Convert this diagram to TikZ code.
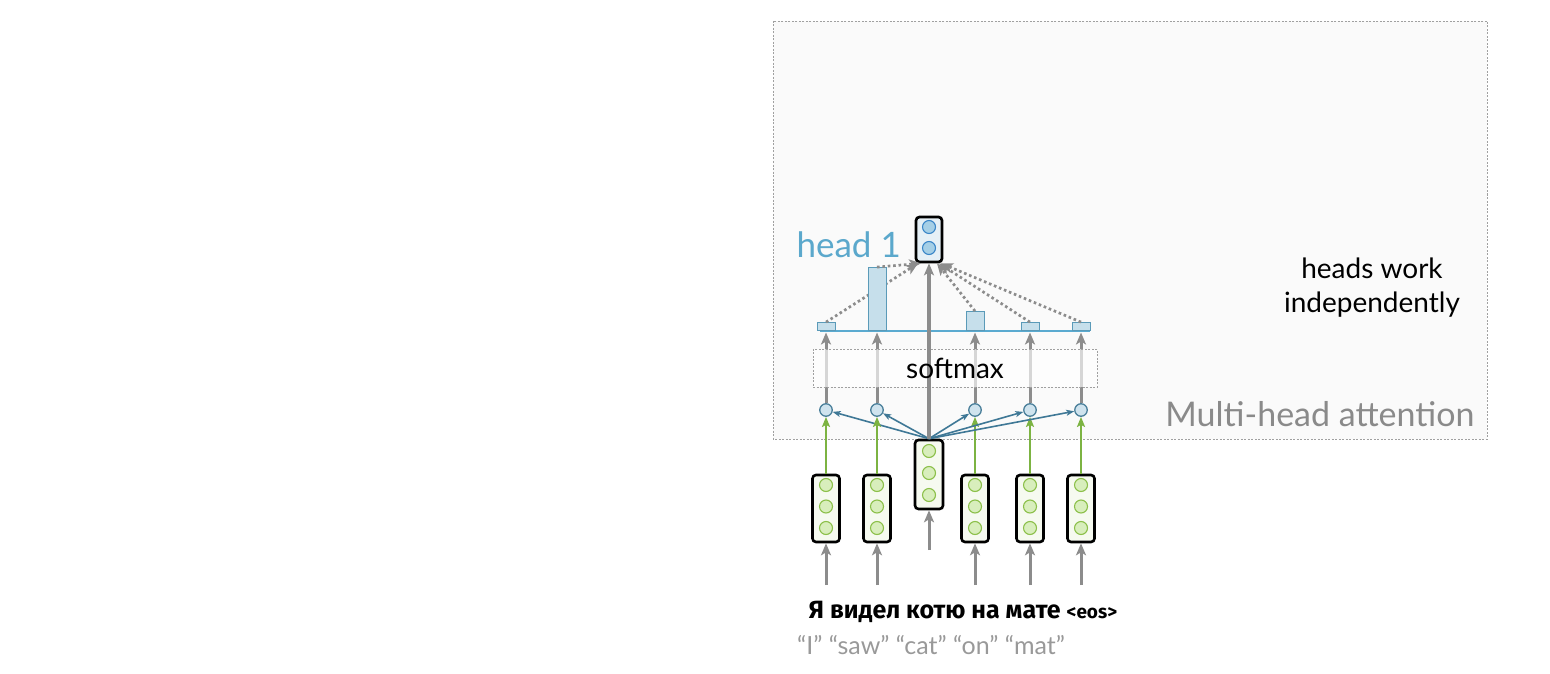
\documentclass[tikz,border=0pt]{standalone}
\usepackage{fontspec}
\setmainfont{Lato}
\newfontfamily\rusfont{Fira Sans}
\usetikzlibrary{arrows.meta, calc, positioning}
\definecolor{framefill}{HTML}{FAFAFA}
\definecolor{framegray}{HTML}{A0A0A0}
\definecolor{arrowgray}{HTML}{8C8C8C}
\definecolor{vecfill}{HTML}{F6FAF0}
\definecolor{dotfill}{HTML}{D8EEBC}
\definecolor{dotdraw}{HTML}{8CC04A}
\definecolor{greenarrow}{HTML}{7CB342}
\definecolor{scorefill}{HTML}{CFE3EE}
\definecolor{scoredraw}{HTML}{4A7F9A}
\definecolor{blueedge}{HTML}{3F7896}
\definecolor{barfill}{HTML}{C6DFEB}
\definecolor{bardraw}{HTML}{5A9AB8}
\definecolor{baseblue}{HTML}{5AAAD0}
\definecolor{headfill}{HTML}{E6F0F6}
\definecolor{headdot}{HTML}{A5CFE6}
\definecolor{headdotdraw}{HTML}{3A86C8}
\definecolor{headblue}{HTML}{5BA8CC}
\definecolor{titlegray}{HTML}{8A8A8A}
\definecolor{wordgray}{HTML}{999999}

\begin{document}
\begin{tikzpicture}[x=1pt, y=-1pt,
    vecbox/.style={draw=black, line width=2.6pt, rounded corners=3.5pt, fill=vecfill,
      minimum width=27pt, minimum height=67pt, inner sep=0pt},
    vecdot/.style={circle, draw=dotdraw, line width=1.1pt, fill=dotfill, minimum size=13pt, inner sep=0pt},
    score/.style={circle, draw=scoredraw, line width=1.3pt, fill=scorefill, minimum size=12.5pt, inner sep=0pt},
    bar/.style={draw=bardraw, line width=0.9pt, fill=barfill, minimum width=18pt, inner sep=0pt},
    headdotn/.style={circle, draw=headdotdraw, line width=1.1pt, fill=headdot, minimum size=13pt, inner sep=0pt},
    grayedge/.style={->, >={Stealth[length=12pt, width=10pt, inset=3pt]}, color=arrowgray, line width=3pt},
    greenedge/.style={->, >={Stealth[length=10pt, width=8pt, inset=2pt]}, color=greenarrow, line width=2.6pt},
    bluearrow/.style={->, >={Stealth[length=8pt, width=6pt, inset=2pt]}, color=blueedge, line width=1.6pt},
    dotedge/.style={->, >={Stealth[length=12pt, width=10pt, inset=3pt]}, color=arrowgray, line width=2.7pt,
      dash pattern=on 2.6pt off 2.8pt},
    ]
    \useasboundingbox (0,0) rectangle (1550,674);

    % draw the frame of the attention block
    \draw[fill=framefill, draw=framegray, line width=0.9pt, dash pattern=on 2pt off 1.5pt]
        (773,21) rectangle (1487,439);
    \node[anchor=east, text=titlegray, font=\fontsize{34}{40}\selectfont] (mha) at (1478,414) {Multi-head attention};
    \node[align=center, font=\fontsize{28}{34}\selectfont] (hw) at (1372,288) {heads work\\independently};

    % draw the query vector
    \node[vecbox, minimum width=28pt, minimum height=69pt] (q) at (929,474.5) {};
    \node[vecdot] (q-1) at (929,451) {};
    \node[vecdot] (q-2) at (929,473) {};
    \node[vecdot] (q-3) at (929,495) {};
    \coordinate (qin) at (929,550);
    \draw[grayedge] (qin) -- (q.south);

    % draw the head output
    \node[draw=black, line width=2.7pt, rounded corners=3.5pt, fill=headfill,
          minimum width=26pt, minimum height=45pt, inner sep=0pt] (h) at (929,239.5) {};
    \node[headdotn] (h-1) at (929,227) {};
    \node[headdotn] (h-2) at (929,248) {};
    \node[text=headblue, anchor=west, font=\fontsize{35}{40}\selectfont] (hl) at (793,245) {head 1};

    % draw the key vectors, scores and bars
    \foreach \i/\x/\h/\d in {1/826/8/-11, 2/877/63/-8, 3/975/19/8, 4/1030/8/10, 5/1081/8/12} {
        \node[vecbox] (k\i) at (\x,508.5) {};
        \node[vecdot] (k\i-1) at (\x,485) {};
        \node[vecdot] (k\i-2) at (\x,506.5) {};
        \node[vecdot] (k\i-3) at (\x,528) {};
        \coordinate (in\i) at (\x,585);
        \draw[grayedge] (in\i) -- (k\i.south);

        \node[score] (s\i) at (\x,410) {};
        \draw[greenedge] (k\i.north) -- (s\i.south);
        \draw[bluearrow] (q.north) -- (s\i);

        \coordinate (t\i) at (\x,332.5);
        \draw[grayedge] (s\i.north) -- (t\i);
    }

    % softmax box over the lines
    \node[draw=framegray, line width=0.9pt, dash pattern=on 2pt off 1.5pt, fill=white, fill opacity=0.65,
          minimum width=284pt, minimum height=38pt, inner sep=0pt] (sm) at (955,368) {};

    % bars of the attention weights
    \draw[color=baseblue, line width=1.4pt] (820,331) -- (1090,331);
    \foreach \i/\x/\h/\d in {1/826/8/-11, 2/877/63/-8, 3/975/19/8, 4/1030/8/10, 5/1081/8/12} {
        \node[bar, minimum height=\h pt, anchor=south] (b\i) at (\x,331) {};
        \draw[dotedge] (b\i.north) -- ($(h.south)+(\d,0)$);
    }

    % the query goes straight to the head
    \draw[grayedge, line width=3.2pt] (q.north) -- (h.south);
    \node[font=\fontsize{28}{32}\selectfont] (smlabel) at (sm.center) {softmax};

    % the words
    \node[font=\rusfont\bfseries\fontsize{25}{28}\selectfont] (ru) at (963,612)
        {Я видел котю на мате {\fontsize{19}{22}\selectfont<eos>}};
    \node[text=wordgray, font=\fontsize{25}{28}\selectfont] (en) at (931,645)
        {“I” “saw” “cat” “on” “mat”};
\end{tikzpicture}
\end{document}
